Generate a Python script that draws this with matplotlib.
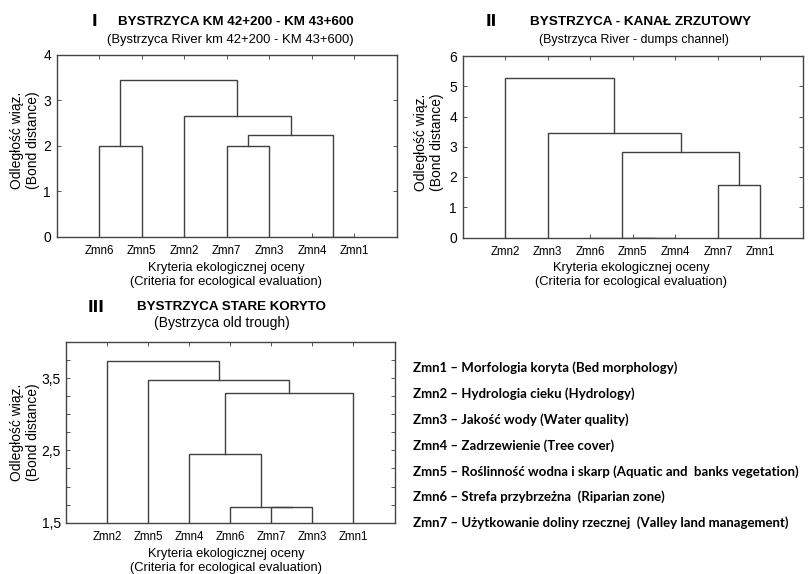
import matplotlib
matplotlib.use("Agg")
import matplotlib.pyplot as plt
from matplotlib import font_manager
from matplotlib.ticker import MultipleLocator

# ---------------- data ----------------
leaves1 = ['Zmn6', 'Zmn5', 'Zmn2', 'Zmn7', 'Zmn3', 'Zmn4', 'Zmn1']
merges1 = [('Zmn4', 'Zmn1', 0.0), ('Zmn6', 'Zmn5', 2.0), ('Zmn7', 'Zmn3', 2.0),
           (2, 0, 2.24), ('Zmn2', 3, 2.65), (1, 4, 3.46)]
yticks1 = [0, 1, 2, 3, 4]
yticklabels1 = ['0', '1', '2', '3', '4']

leaves2 = ['Zmn2', 'Zmn3', 'Zmn6', 'Zmn5', 'Zmn4', 'Zmn7', 'Zmn1']
merges2 = [('Zmn5', 'Zmn4', 0.0), ('Zmn6', 0, 0.0), ('Zmn7', 'Zmn1', 1.73),
           (1, 2, 2.81), ('Zmn3', 3, 3.44), ('Zmn2', 4, 5.28)]
yticks2 = [0, 1, 2, 3, 4, 5, 6]
yticklabels2 = ['0', '1', '2', '3', '4', '5', '6']

leaves3 = ['Zmn2', 'Zmn5', 'Zmn4', 'Zmn6', 'Zmn7', 'Zmn3', 'Zmn1']
merges3 = [('Zmn7', 'Zmn3', 1.72), ('Zmn6', 0, 1.72), ('Zmn4', 1, 2.45),
           (2, 'Zmn1', 3.30), ('Zmn5', 3, 3.47), ('Zmn2', 4, 3.74)]
yticks3 = [1.5, 2.5, 3.5]
yticklabels3 = ['1,5', '2,5', '3,5']

titles_num = ['I', 'II', 'III']
titles = ['BYSTRZYCA KM 42+200 - KM 43+600', 'BYSTRZYCA - KANAŁ ZRZUTOWY', 'BYSTRZYCA STARE KORYTO']
subtitles = ['(Bystrzyca River km 42+200 - KM 43+600)', '(Bystrzyca River - dumps channel)',
             '(Bystrzyca old trough)']
ylabel = 'Odległość wiąz.\n(Bond distance)'
xlabel = 'Kryteria ekologicznej oceny\n(Criteria for ecological evaluation)'

legend_lines = [
    'Zmn1 – Morfologia koryta (Bed morphology)',
    'Zmn2 – Hydrologia cieku (Hydrology)',
    'Zmn3 – Jakość wody (Water quality)',
    'Zmn4 – Zadrzewienie (Tree cover)',
    'Zmn5 – Roślinność wodna i skarp (Aquatic and  banks vegetation)',
    'Zmn6 – Strefa przybrzeżna  (Riparian zone)',
    'Zmn7 – Użytkowanie doliny rzecznej  (Valley land management)',
]

# ---------------- style ----------------
names = {f.name for f in font_manager.fontManager.ttflist}
narrow = 'Liberation Sans Narrow' if 'Liberation Sans Narrow' in names else 'Liberation Sans'
plt.rcParams['font.family'] = ['Liberation Sans', 'DejaVu Sans']

W, H = 811, 574
fig = plt.figure(figsize=(W / 100, H / 100), dpi=100)
fig.patch.set_facecolor('white')

LINEC = '#404040'


def px_axes(l, t, r, b):
    return fig.add_axes([l / W, 1 - b / H, (r - l) / W, (b - t) / H])


def draw_dendro(ax, leaves, merges):
    pos = {n: float(i) for i, n in enumerate(leaves)}
    hgt = {n: 0.0 for n in leaves}
    for k, (a, b, h) in enumerate(merges):
        xa, xb = pos[a], pos[b]
        ax.plot([xa, xa, xb, xb], [hgt[a], h, h, hgt[b]], color=LINEC, lw=1.0,
                solid_joinstyle='miter', clip_on=True)
        pos[k] = (xa + xb) / 2
        hgt[k] = h


def setup(ax, leaves, ylim, yticks, yticklabels, minor=None):
    ax.set_xlim(-1, 7)
    ax.set_ylim(*ylim)
    ax.set_xticks(range(len(leaves)))
    ax.set_xticklabels(leaves, family=narrow, fontsize=8.3)
    ax.set_yticks(yticks)
    ax.set_yticklabels(yticklabels, fontsize=10)
    if minor is not None:
        ax.yaxis.set_minor_locator(MultipleLocator(minor))
        ax.tick_params(axis='y', which='minor', direction='in', length=3, width=0.7,
                       left=True, right=True, color='#555555')
    ax.tick_params(axis='both', which='major', direction='in', length=3, width=0.7,
                   top=True, right=True, color='#555555', pad=4)
    ax.tick_params(axis='x', pad=6)
    for s in ax.spines.values():
        s.set_color('#444444')
        s.set_linewidth(1.0)


# Panel I
ax1 = px_axes(56.5, 55, 397, 236.5)
draw_dendro(ax1, leaves1, merges1)
setup(ax1, leaves1, (0, 4), yticks1, yticklabels1)

# Panel II
ax2 = px_axes(462.5, 56, 803, 237.5)
draw_dendro(ax2, leaves2, merges2)
setup(ax2, leaves2, (0, 6), yticks2, yticklabels2)

# Panel III
ax3 = px_axes(66.3, 342, 394.5, 522.7)
draw_dendro(ax3, leaves3, merges3)
setup(ax3, leaves3, (1.5, 4.0), yticks3, yticklabels3, minor=0.25)


def ftext(x, y, s, **kw):
    fig.text(x / W, 1 - y / H, s, **kw)


# titles
num_x = [94, 491, 96]
title_x = [118, 530, 137]
title_fs = [9.6, 9.7, 9.6]
title_y = [22, 22, 307]
sub_cx = [230, 634, 222]
sub_y = [40, 40, 323]
sub_fs = [9.4, 8.9, 10]
for i in range(3):
    ftext(num_x[i], title_y[i], titles_num[i], ha='center', va='center',
          fontsize=11, fontweight='heavy', family=['DejaVu Sans'])
    ftext(title_x[i], title_y[i], titles[i], ha='left', va='center',
          fontsize=title_fs[i], fontweight='bold')
    ftext(sub_cx[i], sub_y[i], subtitles[i], ha='center', va='center', fontsize=sub_fs[i])

# axis labels
ylab_x = [25, 429, 25]
ylab_y = [140, 142, 432]
xlab_cx = [226, 631, 226]
xlab_y = [275, 275, 561]
for i in range(3):
    ftext(ylab_x[i], ylab_y[i], ylabel, ha='center', va='center', rotation=90,
          fontsize=10, linespacing=1.1)
    ftext(xlab_cx[i], xlab_y[i], xlabel, ha='center', va='center', fontsize=9.3,
          linespacing=1.2)

# legend
leg_y0 = 368
leg_dy = 25.8
for i, s in enumerate(legend_lines):
    ftext(413, leg_y0 + i * leg_dy, s, ha='left', va='center', fontsize=9.5,
          fontweight='bold', family=['Lato', 'DejaVu Sans'])

fig.savefig('out.png', dpi=100, facecolor='white')
